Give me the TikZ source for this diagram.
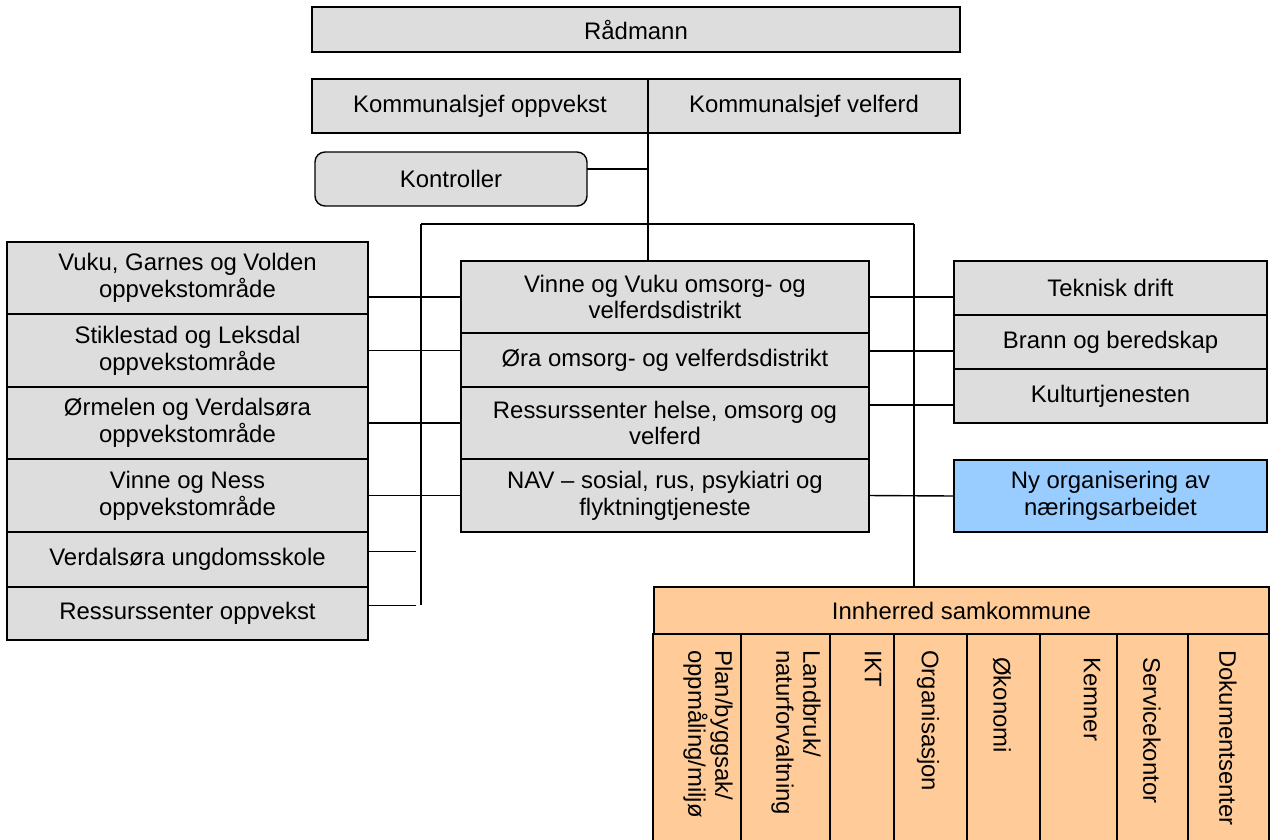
\documentclass[tikz,border=0pt]{standalone}
\usepackage{fontspec}
\setmainfont{Liberation Sans}
\usepackage{tikz}
\usetikzlibrary{positioning, calc}

\definecolor{boxgray}{HTML}{DDDDDD}
\definecolor{nyblue}{HTML}{99CCFF}
\definecolor{iskorange}{HTML}{FFCC99}

% one pixel of the original chart
\def\px{0.2mm}

\tikzset{
    orgbox/.style={draw=black, line width=0.8pt, fill=boxgray, anchor=north west,
        outer sep=0pt, inner sep=2pt, align=center,
        font=\fontsize{13.6}{15.3}\selectfont},
    sized/.style 2 args={minimum width=#1*\px, minimum height=#2*\px},
    coltext/.style={rotate=-90, anchor=west, align=left, inner sep=0pt,
        font=\fontsize{13.6}{15.3}\selectfont},
    link/.style={black, line width=0.8pt}
}

\begin{document}
\begin{tikzpicture}[x=\px, y=-\px]
    \useasboundingbox (0,0) rectangle (1270,839);

    % top of the chart
    \node[orgbox, sized={648}{45}] (rad) at (312,7) {Rådmann};
    \node[orgbox, sized={336}{54}] (ko) at (312,79) {Kommunalsjef oppvekst};
    \node[orgbox, sized={312}{54}] (kv) at (ko.north east) {Kommunalsjef velferd};
    \node[orgbox, sized={272}{54}, rounded corners=2mm] (kon) at (315,152) {Kontroller};

    % left column
    \node[orgbox, sized={361}{72}] (v1) at (7,242) {Vuku, Garnes og Volden\\oppvekstområde};
    \node[orgbox, sized={361}{73}, below=0pt of v1] (v2) {Stiklestad og Leksdal\\oppvekstområde};
    \node[orgbox, sized={361}{72}, below=0pt of v2] (v3) {Ørmelen og Verdalsøra\\oppvekstområde};
    \node[orgbox, sized={361}{73}, below=0pt of v3] (v4) {Vinne og Ness\\oppvekstområde};
    \node[orgbox, sized={361}{55}, below=0pt of v4] (v5) {Verdalsøra ungdomsskole};
    \node[orgbox, sized={361}{53}, below=0pt of v5] (v6) {Ressurssenter oppvekst};

    % middle column
    \node[orgbox, sized={408}{72}] (m1) at (461,261) {Vinne og Vuku omsorg- og\\velferdsdistrikt};
    \node[orgbox, sized={408}{54}, below=0pt of m1] (m2) {Øra omsorg- og velferdsdistrikt};
    \node[orgbox, sized={408}{72}, below=0pt of m2] (m3) {Ressurssenter helse, omsorg og\\velferd};
    \node[orgbox, sized={408}{73}, below=0pt of m3] (m4) {NAV – sosial, rus, psykiatri og\\flyktningtjeneste};

    % right column
    \node[orgbox, sized={313}{54}] (t1) at (954,261) {Teknisk drift};
    \node[orgbox, sized={313}{54}, below=0pt of t1] (t2) {Brann og beredskap};
    \node[orgbox, sized={313}{54}, below=0pt of t2] (t3) {Kulturtjenesten};
    \node[orgbox, sized={313}{72}, fill=nyblue] (ny) at (954,460) {Ny organisering av\\næringsarbeidet};

    % samkommune
    \node[orgbox, sized={615}{47}, fill=iskorange] (isk) at (654,587) {Innherred samkommune};
    \foreach \i/\xa/\xb in {1/653/741, 2/741/830, 3/830/894, 4/894/967,
                            5/967/1040, 6/1040/1117, 7/1117/1188, 8/1188/1269}
    {
        \node[orgbox, fill=iskorange, minimum width=(\xb-\xa)*\px,
              minimum height=220*\px] (c\i) at (\xa,634) {};
    }
    \node[coltext] (ct1) at (708,650) {Plan/byggsak/\\oppmåling/miljø};
    \node[coltext] (ct2) at (796,650) {Landbruk/\\naturforvaltning};
    \node[coltext] (ct3) at (873,650) {IKT};
    \node[coltext] (ct4) at (928,650) {Organisasjon};
    \node[coltext] (ct5) at (1002,657) {Økonomi};
    \node[coltext] (ct6) at (1092,657) {Kemner};
    \node[coltext] (ct7) at (1152,657) {Servicekontor};
    \node[coltext] (ct8) at (1228,650) {Dokumentsenter};

    % bus lines
    \coordinate (lt) at (421,224);
    \coordinate (rt) at (914,224);
    \coordinate (lb) at (421,605);
    \coordinate (le) at (416,605);
    \draw[link] (ko.south east) -- (ko.south east |- m1.north);
    \draw[link] ($(kon.east)+(0,-10)$) coordinate (k) -- (k -| ko.south east);
    \draw[link] (lt) -- (rt);
    \draw[link] (lt) -- (lb);
    \draw[link] (rt) -- (rt |- isk.north);

    % left connectors
    \draw[link] (m1.west -| v1.east) -- (m1.west);
    \foreach \i in {2,3,4}
        \draw[link] (v\i.east) -- (v\i.east -| m\i.west);
    \foreach \i in {5,6}
        \draw[link] ($(v\i.east)+(0,-8)$) coordinate (s\i) -- (s\i -| le);

    % right connectors
    \foreach \i in {1,2,3}
        \draw[link] ($(t\i.west)+(0,9)$) coordinate (r\i) -- (r\i -| m1.east);
    \draw[link] (m4.east) -- (ny.west);
\end{tikzpicture}
\end{document}
